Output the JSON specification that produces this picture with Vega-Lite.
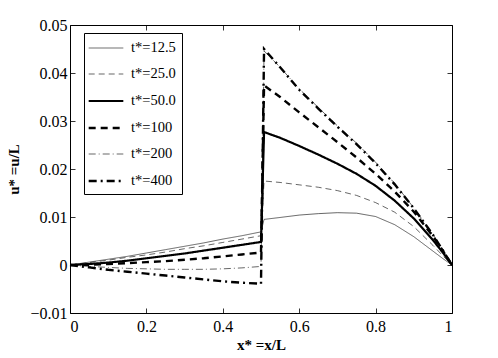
{
  "$schema": "https://vega.github.io/schema/vega-lite/v6.json",
  "width": 382,
  "height": 288,
  "autosize": "none",
  "padding": {"left": 70, "top": 25, "right": 46, "bottom": 45},
  "background": "white",
  "config": {
    "view": {"stroke": "black", "strokeWidth": 1},
    "font": "Liberation Serif",
    "axis": {
      "grid": false,
      "domain": false,
      "labelFont": "Liberation Serif",
      "labelFontSize": 16,
      "labelColor": "black",
      "tickColor": "black",
      "tickSize": -5,
      "tickWidth": 0.8,
      "titleFont": "Liberation Serif",
      "titleFontSize": 15,
      "titleFontWeight": "bold",
      "titleColor": "black"
    },
    "legend": {
      "labelFont": "Liberation Serif",
      "labelFontSize": 14.5,
      "labelColor": "black"
    }
  },
  "data": {
    "values": [
      {"t": "12.5", "x": 0, "u": 0}, {"t": "12.5", "x": 0.05, "u": 0.0006}, {"t": "12.5", "x": 0.1, "u": 0.0012}, {"t": "12.5", "x": 0.15, "u": 0.0018}, {"t": "12.5", "x": 0.2, "u": 0.0025}, {"t": "12.5", "x": 0.25, "u": 0.0032}, {"t": "12.5", "x": 0.3, "u": 0.0039}, {"t": "12.5", "x": 0.35, "u": 0.0046}, {"t": "12.5", "x": 0.4, "u": 0.0054}, {"t": "12.5", "x": 0.45, "u": 0.0061}, {"t": "12.5", "x": 0.5, "u": 0.0069},
      {"t": "12.5", "x": 0.508, "u": 0.0095}, {"t": "12.5", "x": 0.55, "u": 0.0099}, {"t": "12.5", "x": 0.6, "u": 0.0104}, {"t": "12.5", "x": 0.65, "u": 0.0107}, {"t": "12.5", "x": 0.7, "u": 0.0109}, {"t": "12.5", "x": 0.75, "u": 0.0108}, {"t": "12.5", "x": 0.8, "u": 0.0101}, {"t": "12.5", "x": 0.85, "u": 0.0084}, {"t": "12.5", "x": 0.9, "u": 0.0059}, {"t": "12.5", "x": 0.95, "u": 0.0029}, {"t": "12.5", "x": 0.975, "u": 0.0014}, {"t": "12.5", "x": 1, "u": 0},

      {"t": "25.0", "x": 0, "u": 0}, {"t": "25.0", "x": 0.05, "u": 0.0005}, {"t": "25.0", "x": 0.1, "u": 0.001}, {"t": "25.0", "x": 0.15, "u": 0.0016}, {"t": "25.0", "x": 0.2, "u": 0.0021}, {"t": "25.0", "x": 0.25, "u": 0.0027}, {"t": "25.0", "x": 0.3, "u": 0.0034}, {"t": "25.0", "x": 0.35, "u": 0.004}, {"t": "25.0", "x": 0.4, "u": 0.0047}, {"t": "25.0", "x": 0.45, "u": 0.0054}, {"t": "25.0", "x": 0.5, "u": 0.0061},
      {"t": "25.0", "x": 0.508, "u": 0.0175}, {"t": "25.0", "x": 0.55, "u": 0.0172}, {"t": "25.0", "x": 0.6, "u": 0.0167}, {"t": "25.0", "x": 0.65, "u": 0.0162}, {"t": "25.0", "x": 0.7, "u": 0.0155}, {"t": "25.0", "x": 0.75, "u": 0.0145}, {"t": "25.0", "x": 0.8, "u": 0.013}, {"t": "25.0", "x": 0.85, "u": 0.011}, {"t": "25.0", "x": 0.9, "u": 0.008}, {"t": "25.0", "x": 0.95, "u": 0.0041}, {"t": "25.0", "x": 0.975, "u": 0.002}, {"t": "25.0", "x": 1, "u": 0},

      {"t": "50.0", "x": 0, "u": 0}, {"t": "50.0", "x": 0.05, "u": 0.0002}, {"t": "50.0", "x": 0.1, "u": 0.0005}, {"t": "50.0", "x": 0.15, "u": 0.0009}, {"t": "50.0", "x": 0.2, "u": 0.0014}, {"t": "50.0", "x": 0.25, "u": 0.0019}, {"t": "50.0", "x": 0.3, "u": 0.0024}, {"t": "50.0", "x": 0.35, "u": 0.003}, {"t": "50.0", "x": 0.4, "u": 0.0036}, {"t": "50.0", "x": 0.45, "u": 0.0042}, {"t": "50.0", "x": 0.5, "u": 0.0048},
      {"t": "50.0", "x": 0.508, "u": 0.0277}, {"t": "50.0", "x": 0.55, "u": 0.0265}, {"t": "50.0", "x": 0.6, "u": 0.0248}, {"t": "50.0", "x": 0.65, "u": 0.023}, {"t": "50.0", "x": 0.7, "u": 0.0211}, {"t": "50.0", "x": 0.75, "u": 0.019}, {"t": "50.0", "x": 0.8, "u": 0.0165}, {"t": "50.0", "x": 0.85, "u": 0.0134}, {"t": "50.0", "x": 0.9, "u": 0.0097}, {"t": "50.0", "x": 0.95, "u": 0.0052}, {"t": "50.0", "x": 0.975, "u": 0.0027}, {"t": "50.0", "x": 1, "u": 0},

      {"t": "100", "x": 0, "u": 0}, {"t": "100", "x": 0.05, "u": 0.00005}, {"t": "100", "x": 0.1, "u": 0.0002}, {"t": "100", "x": 0.15, "u": 0.0004}, {"t": "100", "x": 0.2, "u": 0.0006}, {"t": "100", "x": 0.25, "u": 0.0008}, {"t": "100", "x": 0.3, "u": 0.0011}, {"t": "100", "x": 0.35, "u": 0.0014}, {"t": "100", "x": 0.4, "u": 0.0018}, {"t": "100", "x": 0.45, "u": 0.0022}, {"t": "100", "x": 0.5, "u": 0.0026},
      {"t": "100", "x": 0.508, "u": 0.0374}, {"t": "100", "x": 0.55, "u": 0.035}, {"t": "100", "x": 0.6, "u": 0.0318}, {"t": "100", "x": 0.65, "u": 0.0287}, {"t": "100", "x": 0.7, "u": 0.0256}, {"t": "100", "x": 0.75, "u": 0.0224}, {"t": "100", "x": 0.8, "u": 0.019}, {"t": "100", "x": 0.85, "u": 0.0153}, {"t": "100", "x": 0.9, "u": 0.0111}, {"t": "100", "x": 0.95, "u": 0.006}, {"t": "100", "x": 0.975, "u": 0.0031}, {"t": "100", "x": 1, "u": 0},

      {"t": "200", "x": 0, "u": 0}, {"t": "200", "x": 0.05, "u": -0.0003}, {"t": "200", "x": 0.1, "u": -0.0005}, {"t": "200", "x": 0.15, "u": -0.0007}, {"t": "200", "x": 0.2, "u": -0.0008}, {"t": "200", "x": 0.25, "u": -0.0009}, {"t": "200", "x": 0.3, "u": -0.0009}, {"t": "200", "x": 0.35, "u": -0.0009}, {"t": "200", "x": 0.4, "u": -0.0008}, {"t": "200", "x": 0.45, "u": -0.0006}, {"t": "200", "x": 0.5, "u": -0.0003},
      {"t": "200", "x": 0.508, "u": 0.0446}, {"t": "200", "x": 0.55, "u": 0.0412}, {"t": "200", "x": 0.6, "u": 0.0367}, {"t": "200", "x": 0.65, "u": 0.0328}, {"t": "200", "x": 0.7, "u": 0.029}, {"t": "200", "x": 0.75, "u": 0.0254}, {"t": "200", "x": 0.8, "u": 0.0214}, {"t": "200", "x": 0.85, "u": 0.017}, {"t": "200", "x": 0.9, "u": 0.0119}, {"t": "200", "x": 0.95, "u": 0.0064}, {"t": "200", "x": 0.975, "u": 0.0033}, {"t": "200", "x": 1, "u": 0},

      {"t": "400", "x": 0, "u": 0}, {"t": "400", "x": 0.05, "u": -0.0005}, {"t": "400", "x": 0.1, "u": -0.001}, {"t": "400", "x": 0.15, "u": -0.0014}, {"t": "400", "x": 0.2, "u": -0.0018}, {"t": "400", "x": 0.25, "u": -0.0022}, {"t": "400", "x": 0.3, "u": -0.0026}, {"t": "400", "x": 0.35, "u": -0.003}, {"t": "400", "x": 0.4, "u": -0.0034}, {"t": "400", "x": 0.45, "u": -0.0037}, {"t": "400", "x": 0.5, "u": -0.0039},
      {"t": "400", "x": 0.508, "u": 0.045}, {"t": "400", "x": 0.55, "u": 0.0412}, {"t": "400", "x": 0.6, "u": 0.0365}, {"t": "400", "x": 0.65, "u": 0.0326}, {"t": "400", "x": 0.7, "u": 0.0288}, {"t": "400", "x": 0.75, "u": 0.0252}, {"t": "400", "x": 0.8, "u": 0.0212}, {"t": "400", "x": 0.85, "u": 0.0168}, {"t": "400", "x": 0.9, "u": 0.0118}, {"t": "400", "x": 0.95, "u": 0.0063}, {"t": "400", "x": 0.975, "u": 0.0032}, {"t": "400", "x": 1, "u": 0}
    ]
  },
  "layer": [
    {
      "mark": {"type": "line", "color": "black", "strokeCap": "butt"},
      "encoding": {
        "x": {
          "field": "x", "type": "quantitative",
          "scale": {"domain": [0, 1], "nice": false, "zero": false},
          "axis": {"orient": "bottom", "values": [0, 0.2, 0.4, 0.6, 0.8, 1], "format": "~g", "labelPadding": 10, "title": "x* =x/L", "titlePadding": 3}
        },
        "y": {
          "field": "u", "type": "quantitative",
          "scale": {"domain": [-0.01, 0.05], "nice": false, "zero": false},
          "axis": {"orient": "left", "values": [-0.01, 0, 0.01, 0.02, 0.03, 0.04, 0.05], "format": "~g", "labelPadding": 8, "title": "u* =u/L", "titlePadding": 8}
        },
        "strokeDash": {
          "field": "t", "type": "ordinal",
          "scale": {"domain": ["12.5", "25.0", "50.0", "100", "200", "400"], "range": [[1, 0], [6, 4], [1, 0], [7, 5], [7, 3, 1, 3], [8, 4, 2, 4]]},
          "legend": {
            "title": null, "orient": "none", "legendX": 14, "legendY": 8,
            "strokeColor": "black", "fillColor": "white", "padding": 6,
            "symbolType": "M-2,0H2", "symbolSize": 300, "symbolStrokeColor": "black", "symbolOffset": 6,
            "rowPadding": 10, "labelOffset": 15,
            "labelExpr": "'t*=' + datum.label"
          }
        },
        "strokeWidth": {
          "field": "t", "type": "ordinal",
          "scale": {"type": "ordinal", "domain": ["12.5", "25.0", "50.0", "100", "200", "400"], "range": [0.6, 0.6, 2.2, 2.4, 0.6, 2.4]},
          "legend": {
            "title": null, "orient": "none", "legendX": 14, "legendY": 8,
            "strokeColor": "black", "fillColor": "white", "padding": 6,
            "symbolType": "M-2,0H2", "symbolSize": 300, "symbolStrokeColor": "black", "symbolOffset": 6,
            "rowPadding": 10, "labelOffset": 15,
            "labelExpr": "'t*=' + datum.label"
          }
        }
      }
    },
    {
      "mark": {"type": "line", "opacity": 0},
      "encoding": {
        "x": {"field": "x", "type": "quantitative", "axis": {"orient": "top", "values": [0, 0.2, 0.4, 0.6, 0.8, 1], "labels": false, "title": null}},
        "y": {"field": "u", "type": "quantitative", "axis": {"orient": "right", "values": [-0.01, 0, 0.01, 0.02, 0.03, 0.04, 0.05], "labels": false, "title": null}},
        "detail": {"field": "t"}
      }
    }
  ]
}
